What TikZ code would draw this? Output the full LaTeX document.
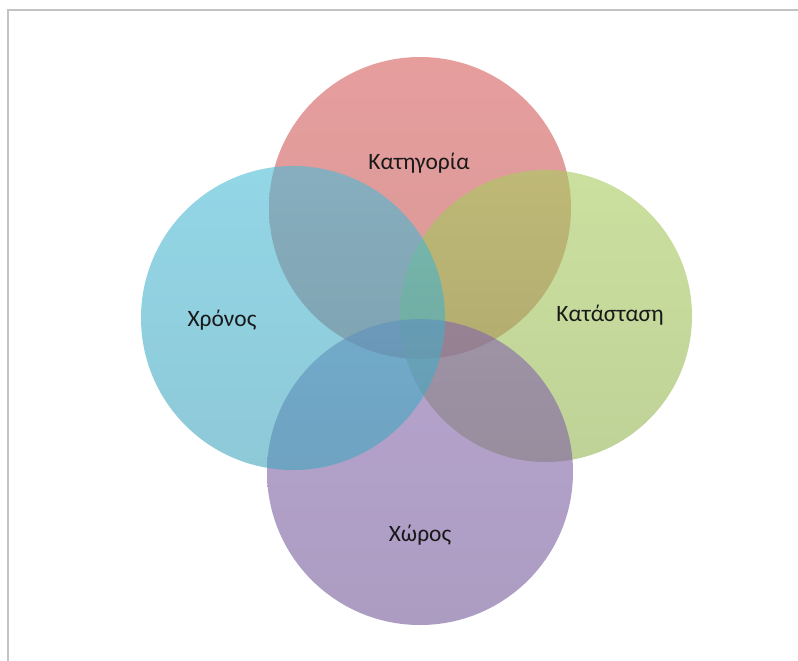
\documentclass[tikz,border=0pt]{standalone}
\usepackage{fontspec}
\setmainfont{Carlito}
\definecolor{catred}{HTML}{D65E5C}
\definecolor{timeblue}{HTML}{4BBBD6}
\definecolor{stategreen}{HTML}{A8CC5E}
\definecolor{spacepurple}{HTML}{8566AD}
\definecolor{framegray}{HTML}{C3C3C3}
\tikzset{
  venn/.style={circle, inner sep=0pt, fill opacity=0.6, draw=none,
    top color=#1, bottom color=#1!88!black},
  tag/.style={font=\fontsize{20}{24}\selectfont, text=black!90}
}
\begin{document}
\begin{tikzpicture}[x=0.03cm, y=-0.03cm]
      \useasboundingbox (0,0) rectangle (798,661);
      % Frame
      \draw[framegray, line width=2.2pt] (8,661) -- (8,10) -- (798,10);

      % Circles
      \node[venn=catred, minimum size=302*0.03cm] (cat) at (420,208) {};
      \node[venn=stategreen, minimum size=292*0.03cm] (state) at (546,316) {};
      \node[venn=spacepurple, minimum size=306*0.03cm] (space) at (420,472) {};
      \node[venn=timeblue, minimum size=304*0.03cm] (time) at (293,318) {};

      % Labels
      \node[tag] (catlabel) at (419,163) {Κατηγορία};
      \node[tag] (timelabel) at (222,320) {Χρόνος};
      \node[tag] (statelabel) at (610,315) {Κατάσταση};
      \node[tag] (spacelabel) at (420,535) {Χώρος};
    \end{tikzpicture}
\end{document}
